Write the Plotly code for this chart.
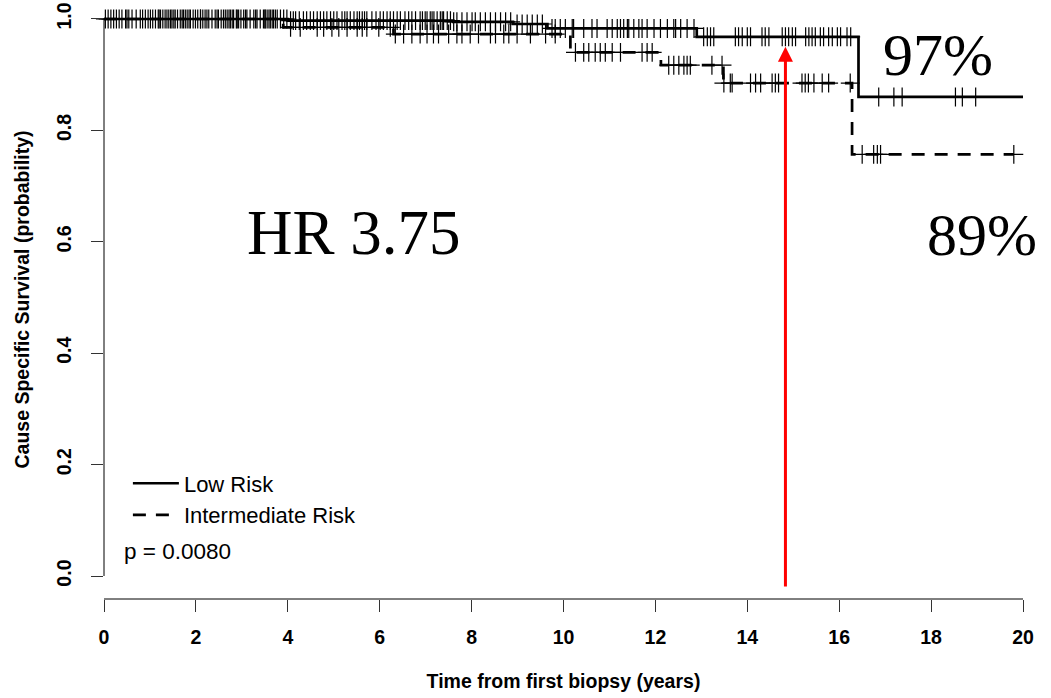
import plotly.graph_objects as go
import numpy as np

# ---- data ----
low_times = [0, 4.0, 7.6, 8.9, 9.65, 12.9, 16.42, 20.0]
low_surv = [1.0, 0.997, 0.995, 0.991, 0.983, 0.968, 0.860, 0.860]

int_times = [0, 3.9, 6.3, 10.15, 12.12, 13.48, 16.28, 19.8]
int_surv = [1.0, 0.985, 0.973, 0.940, 0.917, 0.885, 0.757, 0.757]

low_censor = [0.03, 0.09, 0.15, 0.21, 0.27, 0.33, 0.39, 0.47, 0.54, 0.61, 0.70, 0.79, 0.84,
              0.90, 0.96, 1.01, 1.06, 1.12, 1.18, 1.23, 1.28, 1.33, 1.37, 1.41, 1.45, 1.48,
              1.52, 1.55, 1.60, 1.66, 1.70, 1.73, 1.77, 1.81, 1.85, 1.88, 1.94, 1.99, 2.04,
              2.10, 2.15, 2.20, 2.24, 2.28, 2.35, 2.42, 2.46, 2.49, 2.55, 2.60, 2.64, 2.68,
              2.72, 2.75, 2.79, 2.82, 2.88, 2.93, 2.98, 3.04, 3.08, 3.11, 3.18, 3.26, 3.30,
              3.33, 3.40, 3.47, 3.51, 3.55, 3.59, 3.62, 3.66, 3.69, 3.73, 3.77, 3.84, 3.91,
              3.98, 4.06, 4.12, 4.17, 4.25, 4.34, 4.41, 4.49, 4.56, 4.64, 4.71, 4.78, 4.85,
              4.93, 5.00, 5.07, 5.18, 5.24, 5.29, 5.36, 5.44, 5.51, 5.56, 5.62, 5.67, 5.72,
              5.83, 5.92, 6.01, 6.08, 6.16, 6.23, 6.30, 6.38, 6.45, 6.55, 6.63, 6.70, 6.78,
              6.88, 6.93, 6.99, 7.03, 7.10, 7.14, 7.18, 7.25, 7.32, 7.36, 7.39, 7.47, 7.54,
              7.61, 7.68, 7.79, 7.90, 8.01, 8.08, 8.19, 8.30, 8.41, 8.52, 8.63, 8.74, 8.85,
              8.99, 9.10, 9.21, 9.32, 9.43, 9.54, 9.75, 9.82, 9.93, 10.04, 10.19, 10.22,
              10.44, 10.62, 10.73, 10.95, 11.06, 11.17, 11.24, 11.31, 11.39, 11.42, 11.53,
              11.64, 11.71, 11.82, 11.97, 12.11, 12.26, 12.40, 12.44, 12.55, 12.69, 12.84,
              13.05, 13.13, 13.20, 13.27, 13.74, 13.81, 13.89, 14.00, 14.07, 14.32, 14.39,
              14.47, 14.76, 14.83, 14.90, 14.98, 15.05, 15.27, 15.34, 15.41, 15.48, 15.59,
              15.66, 15.77, 15.85, 15.96, 16.03, 16.17, 16.25, 16.86, 17.19, 17.37, 18.53,
              18.68, 18.97]

int_censor = [0.5, 1.2, 2.1, 2.9, 3.5, 4.06, 4.27, 4.64, 4.78, 4.96, 5.11, 5.29, 5.51, 5.62,
              5.72, 5.98, 6.23, 6.34, 6.52, 6.70, 6.88, 7.03, 7.17, 7.28, 7.50, 7.68, 7.79,
              7.97, 8.15, 8.41, 8.52, 8.70, 8.81, 8.99, 9.28, 9.61, 9.82, 10.26, 10.44, 10.55,
              10.69, 10.80, 10.91, 11.06, 11.24, 11.71, 11.82, 11.93, 12.29, 12.40, 12.51,
              12.62, 12.69, 12.76, 13.23, 13.45, 13.49, 13.63, 13.67, 14.07, 14.18, 14.29,
              14.54, 14.61, 14.68, 15.19, 15.26, 15.33, 15.45, 15.63, 15.77, 16.24, 16.50,
              16.75, 16.83, 16.90, 19.80]

x_ticks = [0, 2, 4, 6, 8, 10, 12, 14, 16, 18, 20]
y_ticks = [0.0, 0.2, 0.4, 0.6, 0.8, 1.0]
y_ticktext = ["0.0", "0.2", "0.4", "0.6", "0.8", "1.0"]

arrow_time = 14.83
arrow_top = 0.95
arrow_bottom = -0.0215


def step_value(times, surv, t):
    idx = np.searchsorted(np.array(times), t, side="right") - 1
    return surv[max(idx, 0)]


SANS = "Liberation Sans, Arial, sans-serif"
SERIF = "Liberation Serif, Times New Roman, serif"
LW = 2.7

fig = go.Figure()

fig.add_trace(go.Scatter(x=low_times, y=low_surv, mode="lines", line_shape="hv",
                         line=dict(color="black", width=LW), name="Low Risk",
                         cliponaxis=False))
fig.add_trace(go.Scatter(x=int_times, y=int_surv, mode="lines", line_shape="hv",
                         line=dict(color="black", width=LW, dash="13px,10px"),
                         name="Intermediate Risk", cliponaxis=False))

for times, surv, cens in [(low_times, low_surv, low_censor), (int_times, int_surv, int_censor)]:
    fig.add_trace(go.Scatter(x=cens, y=[step_value(times, surv, t) for t in cens],
                             mode="markers", showlegend=False, cliponaxis=False,
                             marker=dict(symbol="cross-thin", size=13.5,
                                         line=dict(color="black", width=1.2))))

fig.add_annotation(x=arrow_time, y=arrow_top, ax=arrow_time, ay=arrow_bottom,
                   xref="x", yref="y", axref="x", ayref="y", text="",
                   showarrow=True, arrowhead=2, arrowsize=1, arrowwidth=3,
                   arrowcolor="#FF0000")

fig.add_annotation(x=5.45, y=0.615, xref="x", yref="y", text="HR 3.75", showarrow=False,
                   font=dict(family=SERIF, size=63, color="black"))
fig.add_annotation(x=18.14, y=0.936, xref="x", yref="y", text="97%", showarrow=False,
                   font=dict(family=SERIF, size=60, color="black"))
fig.add_annotation(x=19.1, y=0.612, xref="x", yref="y", text="89%", showarrow=False,
                   font=dict(family=SERIF, size=60, color="black"))
fig.add_annotation(x=0.02, y=0.08, xref="paper", yref="paper", text="p = 0.0080",
                   showarrow=False, xanchor="left", yanchor="middle",
                   font=dict(family=SANS, size=22.5, color="black"))

# R-style axis lines spanning only first to last tick
fig.add_shape(type="line", xref="x", yref="paper", x0=x_ticks[0], x1=x_ticks[-1], y0=0, y1=0,
              line=dict(color="black", width=1))
fig.add_shape(type="line", xref="paper", yref="y", x0=0, x1=0, y0=y_ticks[0], y1=y_ticks[-1],
              line=dict(color="black", width=1))

fig.update_layout(
    width=1051, height=698,
    margin=dict(l=104, r=28, t=0, b=99),
    paper_bgcolor="white", plot_bgcolor="white",
    showlegend=True,
    legend=dict(x=0.026, y=0.228, xanchor="left", yanchor="top",
                bgcolor="rgba(0,0,0,0)", font=dict(family=SANS, size=22, color="black"),
                itemwidth=46),
    xaxis=dict(range=[0, 20.0], tickvals=x_ticks, ticks="outside", ticklen=12,
               tickcolor="#333", tickwidth=1, showline=False, showgrid=False, zeroline=False,
               tickfont=dict(family=SANS, size=19.5, color="black", weight="bold"),
               ticklabelstandoff=9,
               title=dict(text="Time from first biopsy (years)", standoff=26,
                          font=dict(family=SANS, size=19.5, color="black", weight="bold"))),
    yaxis=dict(range=[-0.0413, 1.0341], tickvals=y_ticks, ticktext=y_ticktext,
               tickangle=-90, ticks="outside", ticklen=12, tickcolor="#333", tickwidth=1,
               showline=False, showgrid=False, zeroline=False,
               tickfont=dict(family=SANS, size=19.5, color="black", weight="bold"),
               ticklabelstandoff=12,
               title=dict(text="Cause Specific Survival (probability)", standoff=18,
                          font=dict(family=SANS, size=19.5, color="black", weight="bold"))),
)

fig.write_html("out.html")
